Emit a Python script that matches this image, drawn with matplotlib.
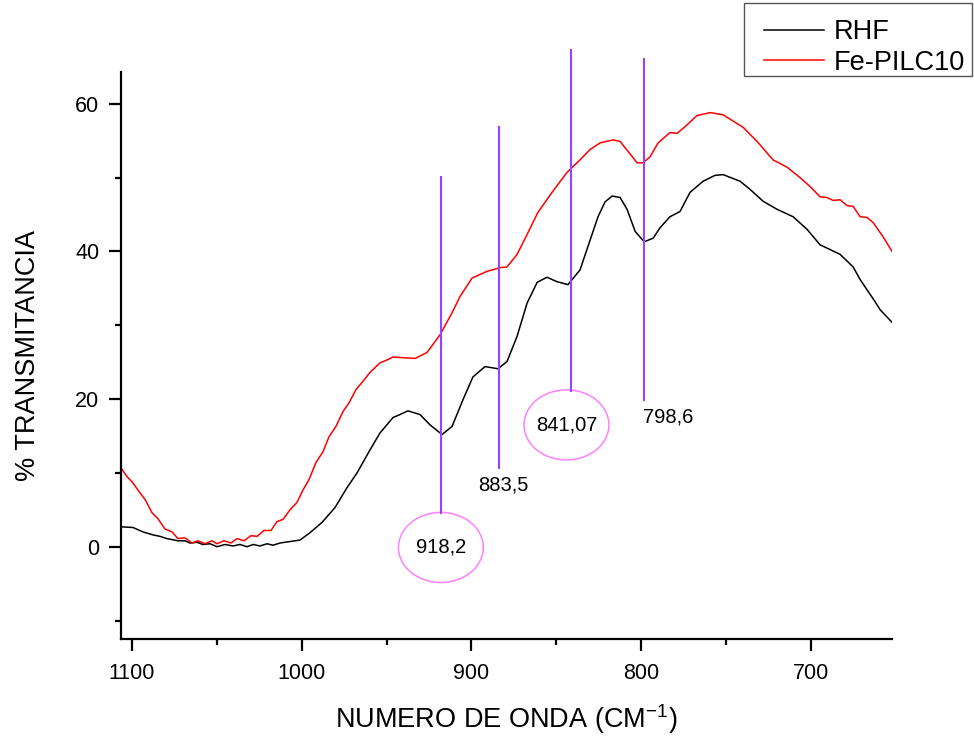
import matplotlib
matplotlib.use('Agg')
import matplotlib.pyplot as plt
from matplotlib.patches import Ellipse, Rectangle
from matplotlib.ticker import MultipleLocator

plt.rcParams['font.family'] = ['Liberation Sans', 'DejaVu Sans']
plt.rcParams['mathtext.default'] = 'regular'

# RHF spectrum (wavenumber, % transmittance)
rhf_x = [1106.5, 1099.4, 1093.5, 1087.6, 1083.5, 1079.4, 1072.9, 1068.8, 1065.8, 1061.7,
         1058.2, 1054.0, 1049.9, 1045.2, 1040.5, 1036.4, 1032.2, 1028.7, 1024.6, 1020.4,
         1016.9, 1012.8, 1006.9, 1001.0, 995.1, 988.0, 980.4, 973.3, 967.4, 959.8,
         953.9, 946.2, 942.1, 937.4, 930.3, 924.4, 917.3, 911.4, 905.0, 899.1,
         892.0, 884.3, 879.0, 873.1, 867.2, 861.3, 855.5, 849.6, 843.1, 836.0,
         831.3, 825.4, 821.3, 817.1, 812.4, 808.3, 803.5, 798.2, 792.9, 788.9,
         783.0, 777.1, 771.2, 763.5, 756.5, 751.7, 741.7, 735.8, 728.2, 719.9,
         710.5, 702.3, 694.6, 682.8, 675.1, 671.0, 666.9, 662.2, 659.2, 652.2]
rhf_y = [2.7, 2.6, 2.0, 1.6, 1.4, 1.1, 0.8, 0.8, 0.5, 0.6,
         0.3, 0.4, 0.0, 0.3, 0.1, 0.3, 0.0, 0.3, 0.1, 0.4,
         0.2, 0.5, 0.7, 0.9, 1.9, 3.3, 5.3, 8.0, 10.0, 13.1,
         15.4, 17.5, 17.9, 18.4, 17.9, 16.5, 15.2, 16.3, 19.9, 23.0,
         24.4, 24.1, 25.1, 28.5, 33.0, 35.8, 36.5, 35.9, 35.5, 37.5,
         40.7, 44.7, 46.7, 47.5, 47.3, 45.7, 42.7, 41.3, 41.8, 43.2,
         44.7, 45.4, 48.0, 49.5, 50.3, 50.4, 49.5, 48.4, 46.8, 45.7,
         44.7, 43.0, 40.9, 39.6, 37.9, 36.2, 34.8, 33.2, 32.1, 30.4]

# Fe-PILC10 spectrum
fe_x = [1106.5, 1103.0, 1100.0, 1095.3, 1092.3, 1088.2, 1084.7, 1080.6, 1076.4, 1072.9,
        1068.8, 1064.6, 1061.1, 1057.0, 1052.9, 1049.9, 1045.8, 1041.7, 1038.1, 1034.0,
        1029.9, 1026.3, 1022.2, 1018.1, 1014.6, 1011.0, 1006.9, 1002.8, 999.2, 995.7,
        991.6, 987.4, 983.9, 979.8, 975.7, 972.1, 968.0, 963.9, 959.8, 953.9,
        949.7, 946.2, 940.3, 933.2, 926.2, 918.5, 911.4, 906.7, 899.6, 890.8,
        883.1, 879.0, 873.1, 867.2, 860.8, 852.5, 843.7, 836.0, 830.1, 824.2,
        816.6, 812.4, 802.4, 798.9, 794.8, 790.0, 783.0, 778.8, 774.1, 767.1,
        759.4, 751.7, 739.9, 731.7, 722.3, 714.0, 706.4, 700.5, 694.6, 690.5,
        686.9, 682.8, 678.7, 675.1, 671.0, 666.9, 663.3, 657.5, 652.2]
fe_y = [10.7, 9.5, 8.8, 7.3, 6.4, 4.6, 3.8, 2.4, 2.0, 1.1,
        1.2, 0.5, 0.8, 0.4, 0.8, 0.4, 0.8, 0.5, 1.1, 0.8,
        1.5, 1.4, 2.2, 2.2, 3.4, 3.7, 5.0, 6.0, 7.7, 9.1,
        11.4, 12.9, 14.9, 16.3, 18.3, 19.5, 21.3, 22.4, 23.6, 24.9,
        25.3, 25.7, 25.6, 25.5, 26.3, 28.7, 31.7, 33.9, 36.4, 37.3,
        37.8, 37.9, 39.6, 42.3, 45.3, 48.0, 50.7, 52.4, 53.8, 54.7,
        55.1, 54.9, 52.0, 52.0, 52.8, 54.7, 56.1, 56.0, 56.9, 58.4,
        58.8, 58.5, 56.8, 54.9, 52.4, 51.4, 50.0, 48.8, 47.4, 47.3,
        46.9, 47.0, 46.2, 46.1, 44.7, 44.6, 43.9, 42.0, 40.0]

# marked bands: position, label, line span, label position, circled?
peak_pos = [918.2, 883.5, 841.07, 798.6]
peak_labels = ['918,2', '883,5', '841,07', '798,6']
line_top = [50.1, 56.9, 67.3, 66.0]
line_bottom = [4.6, 10.7, 21.1, 19.9]
label_x = [918.0, 881.5, 844.0, 798.9]
label_y = [-0.1, 8.4, 16.5, 17.6]
circled = [True, False, True, False]

fig = plt.figure(figsize=(9.74, 7.40), dpi=100)
ax = fig.add_axes([0.1242, 0.1365, 0.7916, 0.7662])

ax.plot(rhf_x, rhf_y, color='black', lw=1.1, label='RHF')
ax.plot(fe_x, fe_y, color='red', lw=1.1, label='Fe-PILC10')

for i in range(len(peak_pos)):
    ax.plot([peak_pos[i], peak_pos[i]], [line_bottom[i], line_top[i]],
            color='#9a40ff', lw=1.5, clip_on=False)
    if circled[i]:
        ax.add_patch(Ellipse((label_x[i], label_y[i]), 50, 9.5, fill=False,
                             edgecolor='#ff80ff', lw=1.1))
        ax.text(label_x[i], label_y[i], peak_labels[i], ha='center', va='center', fontsize=14.5)
    else:
        ha = 'center' if i == 1 else 'left'
        ax.text(label_x[i], label_y[i], peak_labels[i], ha=ha, va='center', fontsize=14.5)

ax.set_xlim(1106.5, 652.2)
ax.set_ylim(-12.5, 64.3)
ax.xaxis.set_major_locator(MultipleLocator(100))
ax.xaxis.set_minor_locator(MultipleLocator(50))
ax.yaxis.set_major_locator(MultipleLocator(20))
ax.yaxis.set_minor_locator(MultipleLocator(10))

for s in ['top', 'right']:
    ax.spines[s].set_visible(False)
for s in ['left', 'bottom']:
    ax.spines[s].set_linewidth(1.6)
ax.tick_params(which='major', length=8.5, width=1.6, labelsize=15.5, pad=7)
ax.tick_params(axis='x', which='major', pad=9)
ax.tick_params(which='minor', length=4.5, width=1.6)

ax.set_xlabel('NUMERO DE ONDA (CM$^{-1}$)', fontsize=19.5, labelpad=13)
ax.set_ylabel('% TRANSMITANCIA', fontsize=19.5, labelpad=25)

# legend text without frame, box drawn separately
fig.legend(loc='upper right', bbox_to_anchor=(965 / 974, 1 - 19 / 740), borderaxespad=0,
           fontsize=19.5, frameon=False, handlelength=2.2, handletextpad=0.37,
           labelspacing=0.17, borderpad=0)
fig.patches.append(Rectangle((744 / 974, 1 - 76 / 740), 228 / 974, 73 / 740,
                             transform=fig.transFigure, fill=False,
                             edgecolor='#555555', lw=1.0))

fig.savefig('out.png', dpi=100)
